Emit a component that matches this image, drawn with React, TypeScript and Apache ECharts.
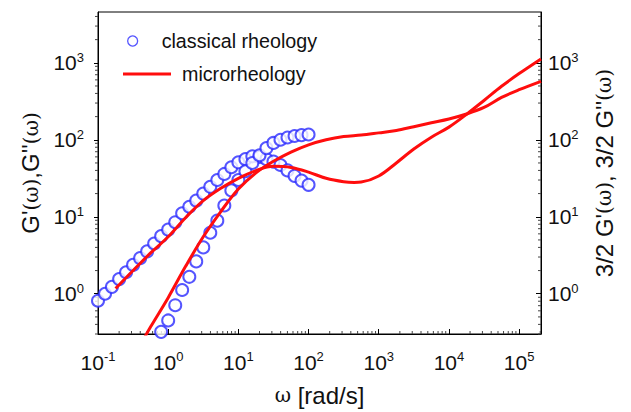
import React, { useEffect, useRef } from 'react';
import * as echarts from 'echarts';

// ---- data ----
const OMEGA_CLASSICAL_G2 = [0.1, 0.126, 0.158, 0.2, 0.251, 0.316, 0.398, 0.501, 0.631, 0.794, 1, 1.26, 1.58, 2.0, 2.51, 3.16, 3.98, 5.01, 6.31, 7.94, 10, 12.6, 15.8, 20, 25.1, 31.6, 39.8, 50.1, 63.1, 79.4, 100];
const G2_CLASSICAL = [0.81, 1.0, 1.23, 1.55, 1.9, 2.37, 2.9, 3.55, 4.5, 5.6, 6.8, 8.5, 11.1, 13.5, 16.2, 20, 24.5, 30, 36, 44, 51, 56, 61, 60, 56, 52, 47, 40, 34, 29.5, 26];
const OMEGA_CLASSICAL_G1 = [0.794, 1, 1.26, 1.58, 2.0, 2.51, 3.16, 3.98, 5.01, 6.31, 7.94, 10, 12.6, 15.8, 20, 25.1, 31.6, 39.8, 50.1, 63.1, 79.4, 100];
const G1_CLASSICAL = [0.32, 0.45, 0.71, 1.12, 1.66, 2.63, 4.0, 6.2, 8.9, 14, 22, 30, 39, 50, 63, 78, 91, 100, 107, 112, 115, 117];

const OMEGA_MICRO_1 = [0.178, 0.316, 0.562, 1, 1.78, 3.16, 5.62, 10, 17.8, 31.6, 56.2, 100, 178, 316, 447, 562, 1000, 1780, 3160, 5620, 10000, 17800, 31600, 56200, 100000, 205000];
const G_MICRO_1 = [1.17, 2.0, 3.39, 5.5, 9.8, 16.2, 23.4, 31.6, 39.8, 45.2, 43.7, 38, 31.6, 28.5, 27.9, 28.2, 33.9, 50, 75.9, 108, 146, 214, 324, 495, 724, 1122];
const OMEGA_MICRO_2 = [0.447, 0.562, 1, 1.78, 3.16, 5.62, 10, 17.8, 31.6, 56.2, 100, 178, 316, 562, 1000, 1780, 3160, 5620, 10000, 17800, 31600, 56200, 100000, 205000];
const G_MICRO_2 = [0.257, 0.372, 0.89, 2.29, 5.5, 11.7, 22.9, 37.2, 52.5, 69.2, 86, 100, 110, 115, 123, 132, 148, 166, 186, 216, 263, 355, 447, 575];

const X_MIN = 0.1;
const X_MAX = 205000;
const Y_MIN = 0.3;
const Y_MAX = 4570;
const X_DECADES = [0.1, 1, 10, 100, 1000, 10000, 100000];
const Y_DECADES = [0.1, 1, 10, 100, 1000];
const MINOR_MULTIPLIERS = [2, 3, 4, 5, 6, 7, 8, 9];

const SERIES_CLASSICAL = 'classical rheology';
const SERIES_MICRO = 'microrheology';

const BLUE = '#2a2aff';
const RED = '#ff0d0d';
const INK = '#111111';
const FONT = 'Liberation Sans, Arial, Helvetica, sans-serif';

const zip = (xs: number[], ys: number[]) => xs.map((x, i) => [x, ys[i]]);

const minorTicks = (() => {
  const out: number[][] = [];
  X_DECADES.forEach((d) =>
    MINOR_MULTIPLIERS.forEach((m) => {
      const v = d * m;
      if (v > X_MIN && v < X_MAX) out.push([v, Y_MIN, 0]);
    })
  );
  Y_DECADES.forEach((d) =>
    MINOR_MULTIPLIERS.forEach((m) => {
      const v = d * m;
      if (v > Y_MIN && v < Y_MAX) {
        out.push([X_MIN, v, 1]);
        out.push([X_MAX, v, 2]);
      }
    })
  );
  return out;
})();

const powLabel = (v: number) => {
  const e = Math.log10(v);
  const n = Math.round(e);
  if (Math.abs(e - n) > 1e-6) return '';
  return `{b|10}{s|${n}}`;
};

const labelRich = {
  b: { fontSize: 21, fontFamily: FONT, color: INK, lineHeight: 24 },
  s: { fontSize: 13, fontFamily: FONT, color: INK, lineHeight: 14, verticalAlign: 'top' as const },
};

const nameRich = {
  w: { fontSize: 20, fontFamily: 'DejaVu Serif, serif', color: INK },
};

export default function App() {
  const ref = useRef<HTMLDivElement>(null);

  useEffect(() => {
    if (!ref.current) return;
    const chart = echarts.init(ref.current, undefined, { renderer: 'svg' });

    const yAxisBase = {
      type: 'log' as const,
      logBase: 10,
      min: Y_MIN,
      max: Y_MAX,
      splitLine: { show: false },
      axisLine: { show: true, onZero: false, lineStyle: { color: '#000', width: 1 } },
      axisLabel: { formatter: powLabel, rich: labelRich, showMinLabel: false, showMaxLabel: false },
      nameLocation: 'middle' as const,
      nameRotate: 90,
      nameTextStyle: { fontSize: 24, fontFamily: FONT, color: INK, rich: nameRich },
    };

    chart.setOption({
      animation: false,
      backgroundColor: '#fff',
      grid: {
        left: 98,
        right: 90,
        top: 12,
        bottom: 78,
        show: true,
        borderColor: '#000',
        borderWidth: 1,
        backgroundColor: 'transparent',
      },
      xAxis: {
        type: 'log',
        logBase: 10,
        min: X_MIN,
        max: X_MAX,
        splitLine: { show: false },
        axisLine: { show: true, onZero: false, lineStyle: { color: '#000', width: 1 } },
        axisTick: { show: true, inside: true, length: 5, lineStyle: { color: '#000' } },
        axisLabel: { formatter: powLabel, rich: labelRich, margin: 16, showMinLabel: true, showMaxLabel: false },
        name: '{w|ω} [rad/s]',
        nameLocation: 'middle',
        nameGap: 49,
        nameTextStyle: { fontSize: 24, fontFamily: FONT, color: INK, rich: nameRich },
      },
      yAxis: [
        {
          ...yAxisBase,
          position: 'left',
          axisTick: { show: true, inside: false, length: 4, lineStyle: { color: '#000' } },
          axisLabel: { ...yAxisBase.axisLabel, margin: 14 },
          name: "G'{w|(ω)},G''{w|(ω)}",
          nameGap: 54,
        },
        {
          ...yAxisBase,
          position: 'right',
          axisTick: { show: true, inside: true, length: 5, lineStyle: { color: '#000' } },
          axisLabel: { ...yAxisBase.axisLabel, margin: 7 },
          name: "3/2 G'{w|(ω)}, 3/2 G''{w|(ω)}",
          nameGap: 51,
        },
      ],
      legend: [
        {
          data: [SERIES_CLASSICAL],
          left: 127,
          top: 31,
          padding: 0,
          itemWidth: 48,
          itemHeight: 10,
          icon: 'circle',
          itemStyle: { color: '#fff', borderColor: BLUE, borderWidth: 1.3 },
          textStyle: { fontSize: 19.7, fontFamily: FONT, color: INK },
          selectedMode: false,
        },
        {
          data: [SERIES_MICRO],
          left: 123,
          top: 64,
          padding: 0,
          itemWidth: 48,
          itemHeight: 3,
          icon: 'rect',
          itemStyle: { color: RED },
          textStyle: { fontSize: 19.7, fontFamily: FONT, color: INK, padding: [0, 0, 0, 6] },
          selectedMode: false,
        },
      ],
      series: [
        {
          type: 'custom',
          name: 'minor ticks',
          silent: true,
          clip: false,
          xAxisIndex: 0,
          yAxisIndex: 0,
          data: minorTicks,
          encode: { x: 0, y: 1 },
          renderItem: (_p: any, api: any) => {
            const side = api.value(2);
            const pt = api.coord([api.value(0), api.value(1)]);
            let x2 = pt[0];
            let y2 = pt[1];
            if (side === 0) y2 -= 3;
            else x2 -= 3;
            return {
              type: 'line',
              shape: { x1: pt[0], y1: pt[1], x2, y2 },
              style: { stroke: '#444', lineWidth: 1 },
            };
          },
          z: 1,
        },
        {
          type: 'scatter',
          name: SERIES_CLASSICAL,
          data: zip(OMEGA_CLASSICAL_G2, G2_CLASSICAL),
          symbol: 'emptyCircle',
          symbolSize: 12,
          itemStyle: { color: BLUE, borderColor: BLUE, borderWidth: 1.3 },
          clip: true,
          z: 2,
        },
        {
          type: 'scatter',
          name: SERIES_CLASSICAL,
          data: zip(OMEGA_CLASSICAL_G1, G1_CLASSICAL),
          symbol: 'emptyCircle',
          symbolSize: 12,
          itemStyle: { color: BLUE, borderColor: BLUE, borderWidth: 1.3 },
          clip: true,
          z: 2,
        },
        {
          type: 'line',
          name: SERIES_MICRO,
          data: zip(OMEGA_MICRO_1, G_MICRO_1),
          showSymbol: false,
          symbol: 'none',
          smooth: 0.35,
          lineStyle: { color: RED, width: 3 },
          itemStyle: { color: RED },
          clip: true,
          z: 3,
        },
        {
          type: 'line',
          name: SERIES_MICRO,
          data: zip(OMEGA_MICRO_2, G_MICRO_2),
          showSymbol: false,
          symbol: 'none',
          smooth: 0.35,
          lineStyle: { color: RED, width: 3 },
          itemStyle: { color: RED },
          clip: true,
          z: 3,
        },
      ],
    });

    return () => chart.dispose();
  }, []);

  return <div ref={ref} style={{ width: 631, height: 412, position: 'absolute', left: 0, top: 0 }} />;
}
